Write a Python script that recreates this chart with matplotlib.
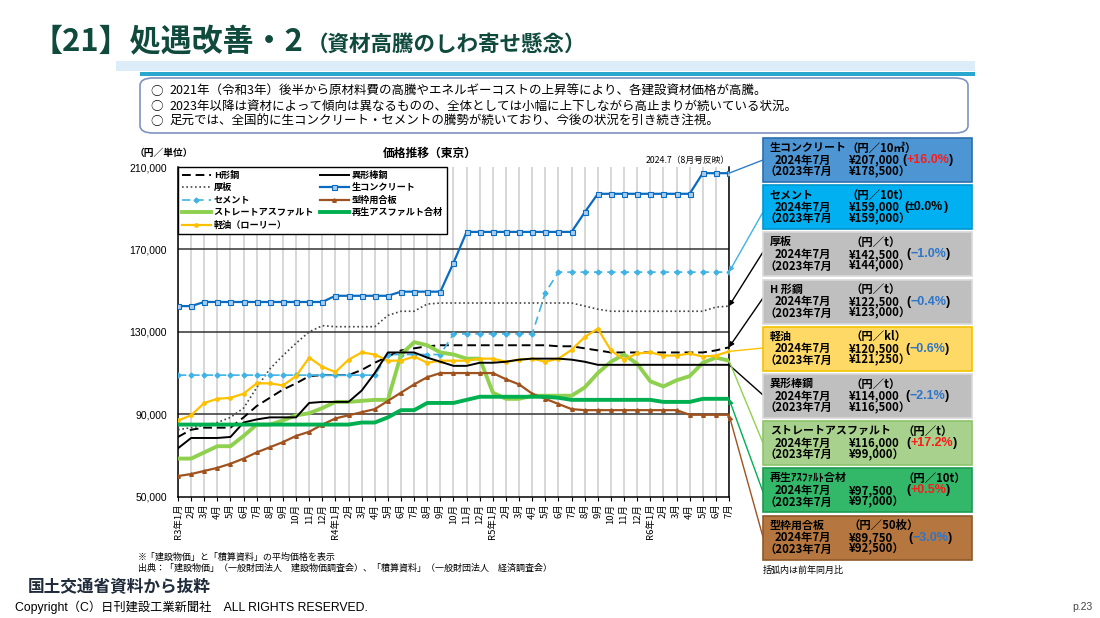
import matplotlib.pyplot as plt
from matplotlib.patches import FancyBboxPatch, Rectangle

plt.rcParams['font.family'] = ['Noto Sans CJK JP', 'DejaVu Sans']

W, H = 1100, 618

# months R3年1月 .. R6年7月
month_labels = []
for year in ['R3', 'R4', 'R5', 'R6']:
    for m in range(1, 13):
        month_labels.append(f'{year}年{m}月' if m == 1 else f'{m}月')
month_labels = month_labels[:43]

h_beam = [79000, 82500, 83500, 83500, 83500, 88500, 94000, 98000, 102000, 105000,
          108500, 109000, 109000, 109000, 111500, 115000, 118000, 121000, 122000, 123000,
          123500, 123500, 123500, 123500, 123500, 123500, 123500, 123500, 123500, 123000,
          123000, 122000, 121000, 120000, 120000, 120000, 120000, 120000, 120000, 120000,
          120000, 121000, 122500]
rebar = [73500, 78500, 78500, 78500, 79000, 86000, 87500, 88500, 88500, 88500,
         95500, 96000, 96000, 96000, 101500, 110000, 120000, 120000, 120000, 117500,
         115500, 113500, 113500, 115000, 115000, 115500, 116500, 117000, 117000, 117000,
         116500, 115500, 114000, 114000, 114000, 114000, 114000, 114000, 114000, 114000,
         114000, 114000, 114000]
plate = [82500, 83500, 84500, 86000, 88500, 93000, 103000, 112000, 118500, 124500,
         130000, 133000, 132500, 132500, 132500, 132500, 138000, 140000, 140000, 143500,
         144000, 144000, 144000, 144000, 144000, 144000, 144000, 144000, 144000, 144000,
         144000, 142500, 141000, 140000, 140000, 140000, 140000, 140000, 140000, 140000,
         140000, 142000, 142500]
concrete = [142500, 142500, 144500, 144500, 144500, 144500, 144500, 144500, 144500, 144500,
            144500, 144500, 147500, 147500, 147500, 147500, 147500, 149500, 149500, 149500,
            149500, 163500, 178500, 178500, 178500, 178500, 178500, 178500, 178500, 178500,
            178500, 188000, 197000, 197000, 197000, 197000, 197000, 197000, 197000, 197000,
            207000, 207000, 207000]
cement = [109000] * 16 + [119000] * 5 + [129000] * 7 + [149000] + [159000] * 14
plywood = [60000, 61000, 62500, 64000, 66000, 68500, 71500, 74000, 76500, 79500,
           81500, 85000, 88000, 89500, 91000, 92500, 96500, 100500, 104500, 108000,
           110000, 110000, 110000, 110000, 110000, 107000, 104500, 100000, 97500, 95000,
           92500, 92000, 92000, 92000, 92000, 92000, 92000, 92000, 92000, 89750,
           89750, 89750, 89750]
asphalt = [68500, 68500, 71500, 74500, 74500, 79500, 85000, 85000, 87000, 89500,
           90500, 93000, 96000, 96000, 96500, 97000, 97000, 119000, 125000, 123500,
           120000, 119000, 117000, 117000, 100500, 97500, 97500, 99000, 99000, 99000,
           99000, 103000, 110000, 115500, 119000, 114500, 106000, 103500, 106500, 108500,
           115000, 117500, 116000]
recycled = [85000] * 14 + [86000, 86000, 88500, 92000, 92000, 95500, 95500, 95500, 97000, 98500,
                           98500, 98500, 98500, 98500, 98500, 98000, 97000,
                           97000, 97000, 97000, 97000, 97000, 97000,
                           96000, 96000, 96000, 97500, 97500, 97500]
diesel = [87000, 89500, 95500, 97500, 98000, 100000, 105000, 105000, 104000, 108500,
          117500, 113000, 110500, 116500, 120000, 119000, 116000, 116000, 118000, 115000,
          116000, 116000, 116000, 117000, 117000, 115500, 116500, 117000, 115500, 117000,
          121250, 127500, 131500, 121000, 116500, 119500, 120000, 118500, 118500, 119500,
          118000, 118500, 120500]

yticks = [50000, 90000, 130000, 170000, 210000]

# right-hand boxes
box_names = ['生コンクリート', 'セメント', '厚板', 'H 形鋼', '軽油', '異形棒鋼',
             'ストレートアスファルト', '再生ｱｽﾌｧﾙﾄ合材', '型枠用合板']
box_units = ['（円／10㎥）', '（円／10t）', '（円／t）', '（円／t）', '（円／kl）', '（円／t）',
             '（円／t）', '（円／10t）', '（円／50枚）']
box_now = [207000, 159000, 142500, 122500, 120500, 114000, 116000, 97500, 89750]
box_prev = [178500, 159000, 144000, 123000, 121250, 116500, 99000, 97000, 92500]

bullets = [
    '2021年（令和3年）後半から原材料費の高騰やエネルギーコストの上昇等により、各建設資材価格が高騰。',
    '2023年以降は資材によって傾向は異なるものの、全体としては小幅に上下しながら高止まりが続いている状況。',
    '足元では、全国的に生コンクリート・セメントの騰勢が続いており、今後の状況を引き続き注視。',
]

fig = plt.figure(figsize=(11, 6.18), dpi=100)
renderer = fig.canvas.get_renderer()


def fx(x):
    return x / W


def fy(y):
    return 1 - y / H


def ftext(x, y, s, **kw):
    kw.setdefault('va', 'center')
    return fig.text(fx(x), fy(y), s, **kw)


def seq_text(x, y, pieces, **kw):
    # place coloured pieces one after another
    for s, col in pieces:
        t = ftext(x, y, s, color=col, **kw)
        x += t.get_window_extent(renderer).width


# title
title_c = '#0f4a3d'
ftext(32, 42, '【21】処遇改善・2', fontsize=22.3, fontweight='bold', color=title_c)
ftext(307, 44, '（資材高騰のしわ寄せ懸念）', fontsize=15.5, fontweight='bold', color=title_c)

# banner strips
fig.patches.append(Rectangle((fx(116), fy(71)), fx(975 - 116), 10 / H,
                             transform=fig.transFigure, color='#dcedf9', lw=0))
fig.patches.append(Rectangle((fx(140), fy(76)), fx(975 - 140), 4.5 / H,
                             transform=fig.transFigure, color='#2aa7cf', lw=0))

# bullet box
fig.patches.append(FancyBboxPatch((fx(140), fy(133)), fx(828), 55 / H,
                                  boxstyle='round,pad=0,rounding_size=0.012',
                                  transform=fig.transFigure, fc='white',
                                  ec='#7f93c0', lw=1.2))
for k, line in enumerate(bullets):
    y = 91 + k * 15.3
    ftext(150, y, '○', fontsize=9)
    ftext(169, y, line, fontsize=9.0)

# chart
ax = fig.add_axes([fx(178), fy(496.7), fx(729 - 178), (496.7 - 167) / H])
x = list(range(43))

series = [
    ('H形鋼', h_beam, dict(color='black', lw=1.4, ls=(0, (4.5, 2.5)))),
    ('厚板', plate, dict(color='#444444', lw=1.2, ls=(0, (1, 1.6)))),
    ('セメント', cement, dict(color='#3fb2e6', lw=1.2, ls=(0, (5, 3)), marker='D', ms=2.5)),
    ('ストレートアスファルト', asphalt, dict(color='#8fd14f', lw=2.8)),
    ('軽油（ローリー）', diesel, dict(color='#ffc000', lw=1.6, marker='o', ms=2.4)),
    ('異形棒鋼', rebar, dict(color='black', lw=1.4)),
    ('生コンクリート', concrete, dict(color='#0a6cc0', lw=1.6, marker='s', ms=3.6,
                                  mfc='#a9cdee', mec='#0a6cc0', mew=0.8)),
    ('型枠用合板', plywood, dict(color='#a0521e', lw=1.6, marker='^', ms=2.6)),
    ('再生アスファルト合材', recycled, dict(color='#00b050', lw=2.8)),
]
handles = []
for name, vals, st in series:
    ln, = ax.plot(x, vals, label=name, zorder=3, **st)
    handles.append(ln)

ax.set_xlim(0, 42)
ax.set_ylim(50000, 210000)
ax.set_xticks(x)
ax.set_xticklabels(month_labels, rotation=90, fontsize=6.8)
ax.set_yticks(yticks)
ax.set_yticklabels([f'{v:,}' for v in yticks], fontsize=7.5, family='Liberation Sans')
ax.tick_params(axis='x', length=3, pad=2)
ax.tick_params(axis='y', length=0, pad=8)
for xv in x:
    ax.axvline(xv, color='#d4d4d4', lw=1.3, zorder=1)
for yv in yticks[1:-1]:
    ax.axhline(yv, color='#333333', lw=1.1, zorder=2)
for s in ax.spines.values():
    s.set_linewidth(1.1)
ax.spines['top'].set_visible(False)

leg = ax.legend(handles=handles, ncol=2, loc='upper left', bbox_to_anchor=(0, 1),
                borderaxespad=0, handlelength=3.2, handletextpad=0.3, columnspacing=0.6,
                labelspacing=0.38, borderpad=0.4, frameon=True, fancybox=False,
                edgecolor='black', framealpha=1, prop={'weight': 'bold', 'size': 6.6})
leg.get_frame().set_linewidth(1.0)
leg.set_zorder(5)

ftext(135, 153, '（円／単位）', fontsize=7, fontweight='bold')
ftext(430, 153, '価格推移（東京）', fontsize=8.5, fontweight='bold', ha='center')
ftext(730, 160, '2024.7（8月号反映）', fontsize=6.3, ha='right')

# right boxes
box_colors = ['#4e95d3', '#00b0f0', '#bfbfbf', '#bfbfbf', '#ffd966', '#bfbfbf',
              '#a9d18e', '#33b86a', '#b5773f']
box_edges = ['#2e6fae', '#0096d0', '#d9d9d9', '#d9d9d9', '#f2c200', '#d9d9d9',
             '#8cc46a', '#1d9a50', '#8f5a2a']
line_colors = ['#2e7fc8', '#3fb2e6', 'black', 'black', '#ffc000', 'black',
               '#8fd14f', '#00b050', '#a0521e']
arrow_heads = [False, True, True, True, False, False, False, True, True]
anchor_y = [160, 212, 252, 298, 348, 395, 443, 492, 537]
unit_x = [847, 847, 851, 851, 851, 851, 902, 902, 848]
pct_x = [902, 904, 906, 906, 905, 905, 906, 906, 908]
end_vals = [s[-1] for s in [concrete, cement, plate, h_beam, diesel, rebar,
                            asphalt, recycled, plywood]]

bfs = 8.2
for k in range(9):
    top = 138 + 47.2 * k
    fig.patches.append(Rectangle((fx(763), fy(top + 44)), fx(209), 44 / H,
                                 transform=fig.transFigure, fc=box_colors[k],
                                 ec=box_edges[k], lw=1.2))
    ftext(770, top + 10, box_names[k], fontsize=7.9, fontweight='bold')
    ftext(unit_x[k], top + 10, box_units[k], fontsize=bfs, fontweight='bold')
    ftext(775, top + 22, '2024年7月', fontsize=bfs, fontweight='bold')
    ftext(849, top + 22, f'¥{box_now[k]:,}', fontsize=bfs, fontweight='bold')
    ftext(765, top + 33.5, '（2023年7月', fontsize=bfs, fontweight='bold')
    ftext(849, top + 33.5, f'¥{box_prev[k]:,}）', fontsize=bfs, fontweight='bold')
    chg = (box_now[k] / box_prev[k] - 1) * 100
    if abs(chg) < 0.05:
        pct, col = '±0.0%', 'black'
    elif chg > 0:
        pct, col = f'+{chg:.1f}%', '#ff1a1a'
    else:
        pct, col = f'−{abs(chg):.1f}%', '#2e75c8'
    seq_text(pct_x[k], top + 22,
             [('(', 'black'), (pct, col), (')', 'black')],
             fontsize=9, fontweight='bold', family='Liberation Sans')

    ax.annotate('', xy=(42, end_vals[k]), xycoords='data',
                xytext=(763, H - anchor_y[k]), textcoords='figure pixels',
                arrowprops=dict(arrowstyle='-|>' if arrow_heads[k] else '-',
                                color=line_colors[k], lw=1.0,
                                mutation_scale=7, shrinkA=0, shrinkB=0),
                annotation_clip=False, zorder=6)

ftext(763, 570, '括弧内は前年同月比', fontsize=6.5)

# notes
ftext(138, 557, '※「建設物価」と「積算資料」の平均価格を表示', fontsize=6.5)
ftext(138, 568, '出典：「建設物価」（一般財団法人　建設物価調査会）、「積算資料」（一般財団法人　経済調査会）',
      fontsize=6.5)
ftext(28, 587, '国土交通省資料から抜粋', fontsize=12, fontweight='bold', color='#1f2a3a')
ftext(15, 607, 'Copyright（C）日刊建設工業新聞社　ALL RIGHTS RESERVED.', fontsize=8.8,
      family=['Liberation Sans', 'Noto Sans CJK JP'])
ftext(1072, 607, 'p.23', fontsize=7.5, color='#444444', family='Liberation Sans')

fig.savefig('out.png', dpi=100)
